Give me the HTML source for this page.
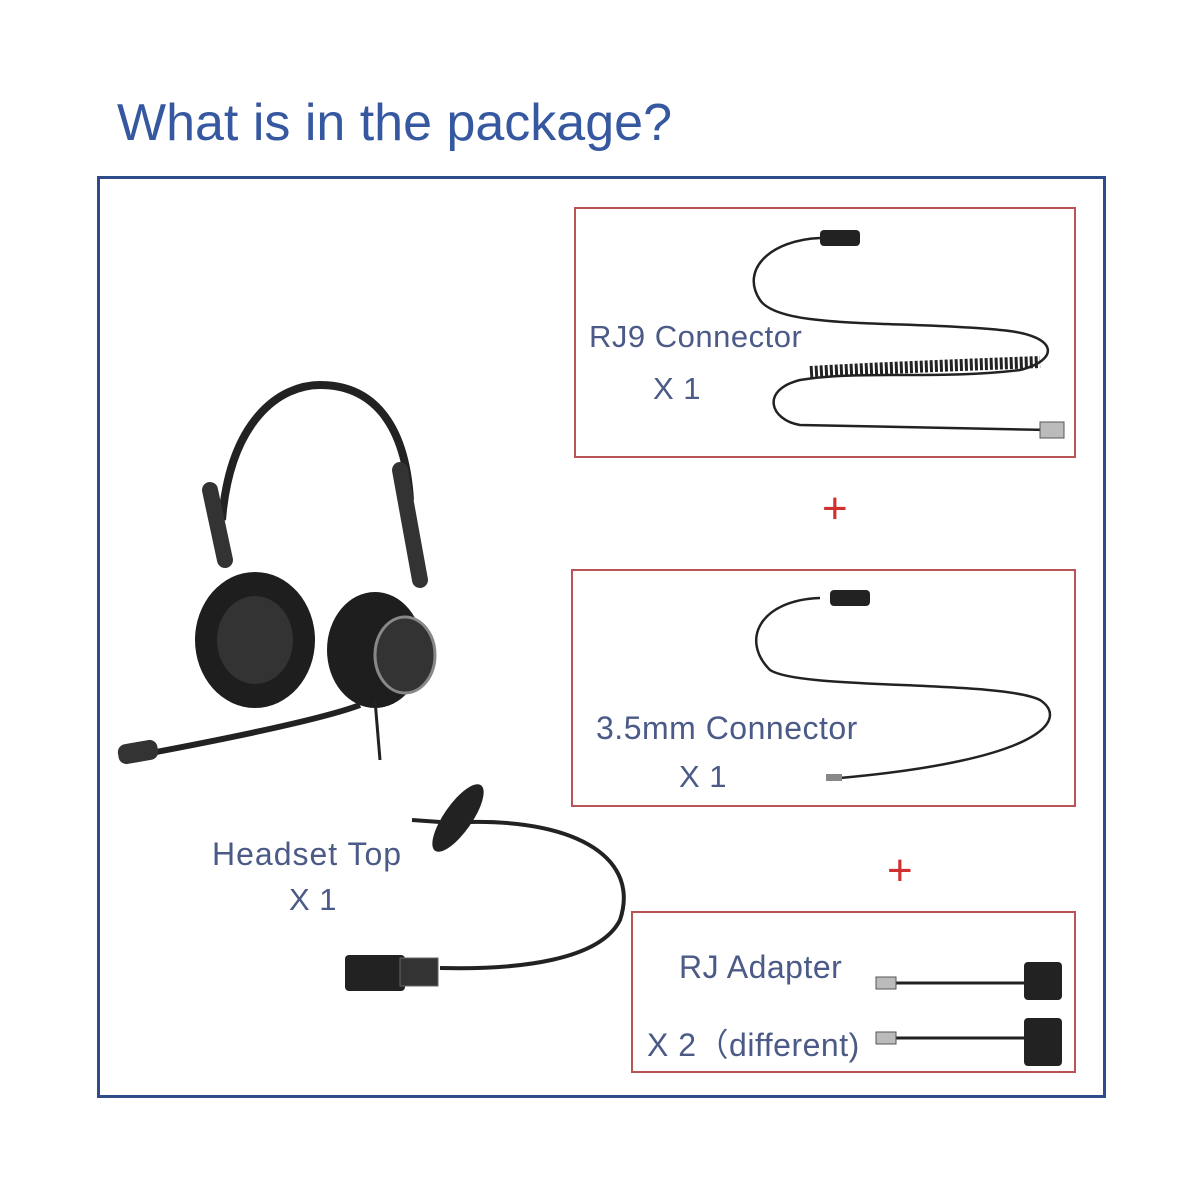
<!DOCTYPE html>
<html><head><meta charset="utf-8"><style>
body{margin:0;width:1200px;height:1200px;background:#fff;position:relative;overflow:hidden;font-family:"Liberation Sans","Noto Sans CJK SC",sans-serif}
.t{position:absolute;color:#4b5a86;font-size:31px;white-space:nowrap;letter-spacing:0.5px}
</style></head><body>
<div class="t" style="left:117px;top:93px;font-size:52px;color:#3558a0;letter-spacing:0">What is in the package?</div>
<div style="position:absolute;left:97px;top:176px;width:1003px;height:916px;border:3px solid #2f4c8a"></div>
<div style="position:absolute;left:574px;top:207px;width:498px;height:247px;border:2px solid #b85454"></div>
<div style="position:absolute;left:571px;top:569px;width:501px;height:234px;border:2px solid #b85454"></div>
<div style="position:absolute;left:631px;top:911px;width:441px;height:158px;border:2px solid #b85454"></div>
<div class="t" style="left:822px;top:484px;font-size:44px;color:#d03030;font-weight:300">+</div>
<div class="t" style="left:887px;top:846px;font-size:44px;color:#d03030">+</div>
<div class="t" style="left:589px;top:319px">RJ9 Connector</div>
<div class="t" style="left:653px;top:371px">X 1</div>
<div class="t" style="left:596px;top:710px;font-size:32px">3.5mm Connector</div>
<div class="t" style="left:679px;top:759px">X 1</div>
<div class="t" style="left:212px;top:836px;font-size:32px;letter-spacing:1px">Headset Top</div>
<div class="t" style="left:289px;top:882px">X 1</div>
<div class="t" style="left:679px;top:949px;font-size:32px">RJ Adapter</div>
<div class="t" style="left:647px;top:1020px;font-size:32px">X 2（different)</div>
<svg width="1200" height="1200" style="position:absolute;left:0;top:0" fill="none">
<path d="M820 238 C770 240 740 270 760 300 C780 330 900 320 1000 330 C1060 335 1060 360 1020 370 C940 380 860 370 800 380 C760 390 770 420 800 425 L1050 430" stroke="#222" stroke-width="2.5"/>
<path d="M810 372 C880 368 960 365 1040 362" stroke="#222" stroke-width="12" stroke-dasharray="3 2"/>
<rect x="820" y="230" width="40" height="16" rx="4" fill="#222"/>
<rect x="1040" y="422" width="24" height="16" fill="#bbb" stroke="#555"/>
<path d="M820 598 C760 600 740 640 770 670 C800 690 1000 680 1040 700 C1070 720 1040 760 840 778" stroke="#222" stroke-width="2.5"/>
<rect x="830" y="590" width="40" height="16" rx="4" fill="#222"/>
<rect x="826" y="774" width="16" height="7" fill="#888"/>
<path d="M895 983 L1030 983 M895 1038 L1030 1038" stroke="#222" stroke-width="3"/>
<rect x="876" y="977" width="20" height="12" fill="#bbb" stroke="#555"/>
<rect x="876" y="1032" width="20" height="12" fill="#bbb" stroke="#555"/>
<rect x="1024" y="962" width="38" height="38" rx="4" fill="#222"/>
<rect x="1024" y="1018" width="38" height="48" rx="4" fill="#222"/>
<path d="M222 520 C230 420 280 385 320 385 C370 385 405 420 410 500" stroke="#222" stroke-width="8"/>
<path d="M210 490 L225 560 M400 470 L420 580" stroke="#333" stroke-width="16" stroke-linecap="round"/>
<ellipse cx="255" cy="640" rx="60" ry="68" fill="#1e1e1e"/>
<ellipse cx="255" cy="640" rx="38" ry="44" fill="#333"/>
<ellipse cx="375" cy="650" rx="48" ry="58" fill="#1e1e1e"/>
<ellipse cx="405" cy="655" rx="30" ry="38" fill="#333" stroke="#888" stroke-width="3"/>
<path d="M360 705 C320 720 220 740 140 755" stroke="#222" stroke-width="6"/>
<rect x="118" y="742" width="40" height="20" rx="8" fill="#333" transform="rotate(-10 138 752)"/>
<path d="M375 700 L380 760" stroke="#222" stroke-width="3"/>
<ellipse cx="458" cy="818" rx="14" ry="40" fill="#222" transform="rotate(35 458 818)"/>
<path d="M412 820 L440 822 M470 822 C580 820 640 860 620 920 C600 960 520 970 440 968" stroke="#222" stroke-width="4"/>
<rect x="345" y="955" width="60" height="36" rx="4" fill="#222"/>
<rect x="400" y="958" width="38" height="28" fill="#333" stroke="#666"/>
</svg>
</body></html>
